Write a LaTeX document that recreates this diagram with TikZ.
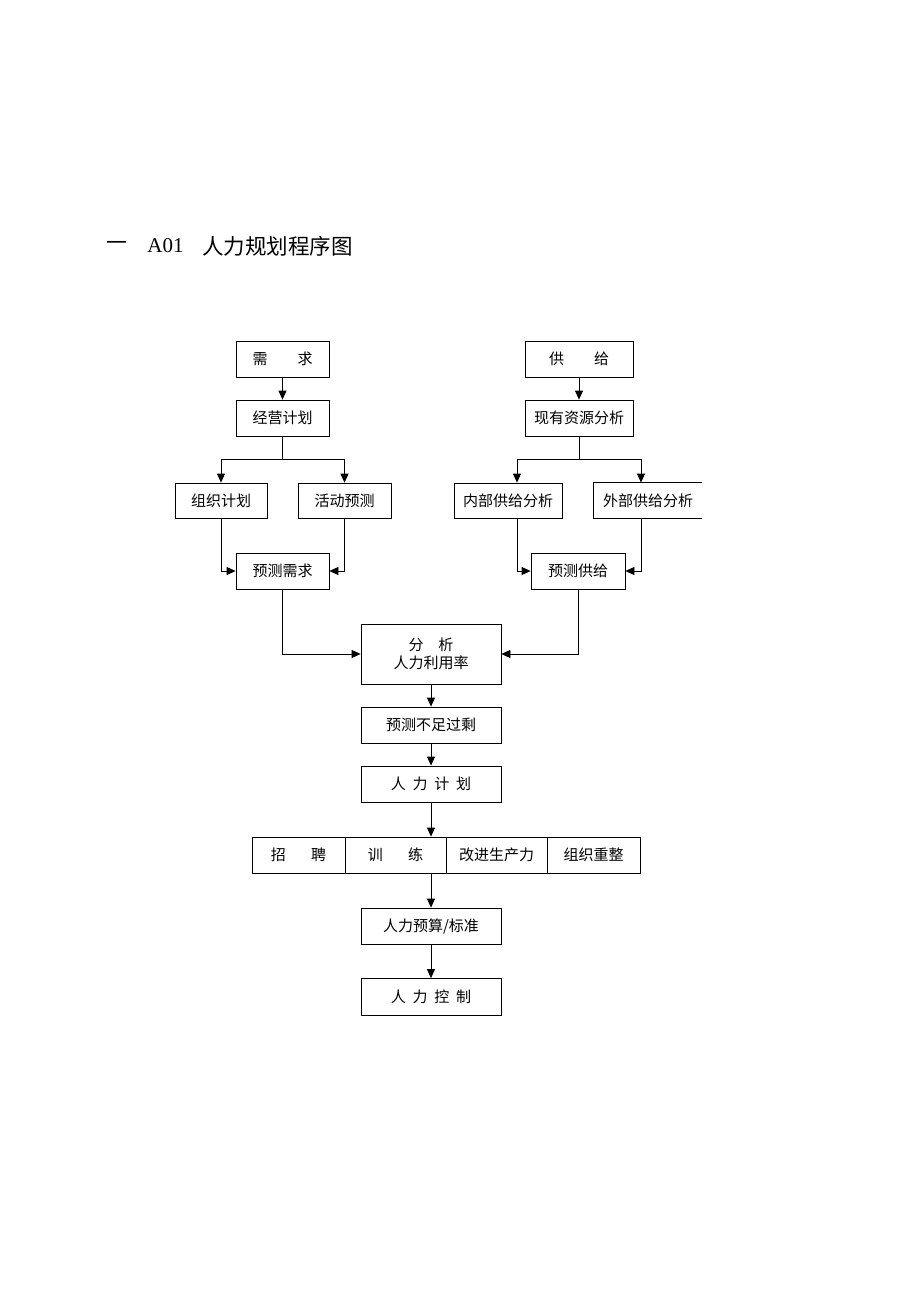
\documentclass[tikz,border=0pt]{standalone}
\usepackage{fontspec}
\setmainfont{Noto Sans CJK SC}
\newfontfamily\latinfont{Liberation Serif}
\usetikzlibrary{arrows.meta}

\tikzset{
	box/.style={draw, inner sep=0pt, minimum height=36pt, font=\fontsize{15}{18}\selectfont},
	arr/.style={-{Triangle[length=9pt,width=8pt]}}
}

\begin{document}
\begin{tikzpicture}[x=1pt, y=-1pt, line width=0.8pt]
\useasboundingbox (0,0) rectangle (920,1302);

% title
\node[anchor=west, inner sep=0pt, font=\fontsize{21}{24}\selectfont] (t1) at (106,246) {一};
\node[anchor=west, inner sep=0pt, font=\fontsize{21}{24}\selectfont\latinfont] (t2) at (147,246) {A01};
\node[anchor=west, inner sep=0pt, font=\fontsize{21.5}{24}\selectfont] (t3) at (202,246) {人力规划程序图};

% demand side
\node[box, minimum width=93pt] (xuqiu) at (282.5,359) {需\hspace{2em}求};
\node[box, minimum width=93pt] (jingying) at (282.5,418) {经营计划};
\node[box, minimum width=92pt, minimum height=35pt] (zuzhi) at (221,500.5) {组织计划};
\node[box, minimum width=93pt, minimum height=35pt] (huodong) at (344.5,500.5) {活动预测};
\node[box, minimum width=93pt] (yucexq) at (282.5,571) {预测需求};

% supply side
\node[box, minimum width=108pt] (gongji) at (579,359) {供\hspace{2em}给};
\node[box, minimum width=108pt] (xianyou) at (579,418) {现有资源分析};
\node[box, minimum width=108pt, minimum height=35pt] (neibu) at (508,500.5) {内部供给分析};
\node[box, draw=none, minimum width=108pt, minimum height=35pt] (waibu) at (648,500.5) {外部供给分析};
\draw (waibu.north east) -- (waibu.north west) -- (waibu.south west) -- (waibu.south east);
\node[box, minimum width=94pt] (yucegj) at (578,571) {预测供给};

% middle column
\node[box, minimum width=140pt, minimum height=60pt, align=center] (fenxi) at (431,654) {分\hspace{1em}析\\人力利用率};
\node[box, minimum width=140pt] (buzu) at (431,725) {预测不足过剩};
\node[box, minimum width=140pt] (jihua) at (431,784) {人\hspace{0.45em}力\hspace{0.45em}计\hspace{0.45em}划};
\foreach \name/\x/\w/\txt in {zhaopin/298.5/93/{招\hspace{1.7em}聘}, xunlian/395.5/101/{训\hspace{1.7em}练}, gaijin/496.5/101/{改进生产力}, chongzheng/593.5/93/{组织重整}}{
	\node[box, minimum width=\w pt] (\name) at (\x,855) {\txt};
}
\node[box, minimum width=140pt] (yusuan) at (431,926) {人力预算/标准};
\node[box, minimum width=140pt, minimum height=37pt] (kongzhi) at (431,997) {人\hspace{0.45em}力\hspace{0.45em}控\hspace{0.45em}制};

% connectors
\draw[arr] (xuqiu) -- (jingying);
\draw[arr] (jingying.south) -- ++(0,23) -| (zuzhi.north);
\draw[arr] (jingying.south) -- ++(0,23) -| (huodong.north);
\draw[arr] (zuzhi.south) |- (yucexq.west);
\draw[arr] (huodong.south) |- (yucexq.east);
\draw[arr] (yucexq.south) |- (fenxi.west);

\draw[arr] (gongji) -- (xianyou);
\draw[arr] (xianyou.south) -- ++(0,23) -| ([xshift=9pt]neibu.north);
\draw[arr] (xianyou.south) -- ++(0,23) -| ([xshift=-7pt]waibu.north);
\draw[arr] ([xshift=9pt]neibu.south) |- (yucegj.west);
\draw[arr] ([xshift=-7pt]waibu.south) |- (yucegj.east);
\draw[arr] (yucegj.south) |- (fenxi.east);

\draw[arr] (fenxi) -- (buzu);
\draw[arr] (buzu) -- (jihua);
\draw[arr] (jihua.south) -- (jihua.south |- xunlian.north);
\draw[arr] (yusuan.north |- xunlian.south) -- (yusuan.north);
\draw[arr] (yusuan) -- (kongzhi);
\end{tikzpicture}
\end{document}
